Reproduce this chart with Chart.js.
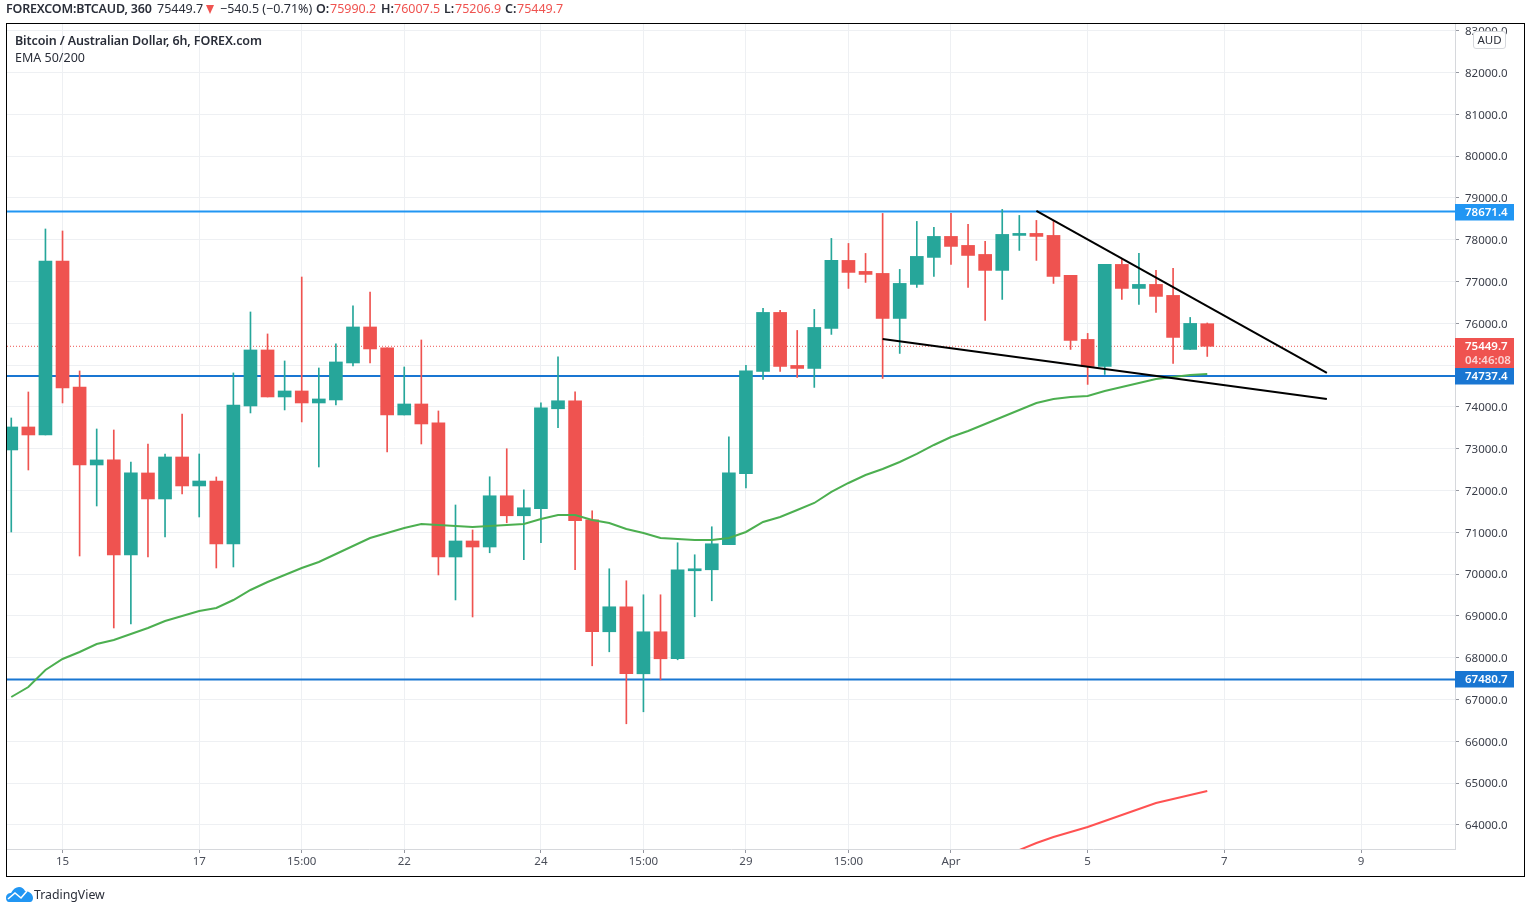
<!DOCTYPE html>
<html>
<head>
<meta charset="utf-8">
<title>BTCAUD</title>
<script src="https://cdn.jsdelivr.net/npm/chart.js@4"></script>
<style>
  html, body { margin: 0; padding: 0; background: #fff; }
  #wrap { position: relative; width: 1530px; height: 913px; overflow: hidden; font-family: "Noto Sans", sans-serif; color: #2a2e39; }
  #wrap canvas { position: absolute; left: 0; top: 0; }
  #frame { position: absolute; left: 6px; top: 23px; width: 1517px; height: 852px; border: 1px solid #000; pointer-events: none; }
  .hd { position: absolute; top: 0; font-size: 12.5px; line-height: 18px; white-space: nowrap; }
  .red { color: #ef5350; }
  .b { font-weight: 600; }
  #tri { position: absolute; left: 206px; top: 5px; width: 0; height: 0; border-left: 4.5px solid transparent; border-right: 4.5px solid transparent; border-top: 9px solid #ef5350; }
  #title { position: absolute; left: 15px; top: 32px; font-size: 12.5px; line-height: 18px; font-weight: 600; letter-spacing: -0.12px; }
  #sub { position: absolute; left: 15px; top: 49px; font-size: 12.5px; line-height: 18px; }
  #aud { position: absolute; left: 1473px; top: 31px; width: 31px; height: 16px; line-height: 16px; border: 1px solid #d6d8dc; border-radius: 3px; background: #fff; text-align: center; font-size: 11.5px; }
  #logo { position: absolute; left: 6px; top: 886px; }
  #tv { position: absolute; left: 34px; top: 886px; font-size: 12.3px; line-height: 18px; }
</style>
</head>
<body>
<div id="wrap">
  <canvas id="chart" width="1530" height="913"></canvas>
  <div id="frame"></div>
  <span class="hd b" style="left:6px;letter-spacing:-0.2px">FOREXCOM:BTCAUD, 360</span>
  <span class="hd" style="left:157px">75449.7</span>
  <div id="tri"></div>
  <span class="hd" style="left:220px">−540.5 (−0.71%)</span>
  <span class="hd b" style="left:316px">O:</span><span class="hd red" style="left:330px">75990.2</span>
  <span class="hd b" style="left:381px">H:</span><span class="hd red" style="left:394px">76007.5</span>
  <span class="hd b" style="left:444px">L:</span><span class="hd red" style="left:455px">75206.9</span>
  <span class="hd b" style="left:505px">C:</span><span class="hd red" style="left:517px">75449.7</span>
  <div id="title">Bitcoin / Australian Dollar, 6h, FOREX.com</div>
  <div id="sub">EMA 50/200</div>
  <div id="aud">AUD</div>
  <svg id="logo" width="27" height="16" viewBox="0 0 27 16">
    <path d="M0 12 C0 8 3 7 5 7 C7 3 10 1 13 1 C16 1 18 3 19 5 C23 5 27 8 27 12 C27 14 26 16 24 16 L3 16 C1 16 0 14 0 12 Z" fill="#2196f3"/>
    <path d="M2 13 L9 7 L15 12 L21 5" fill="none" stroke="#fff" stroke-width="1.6"/>
  </svg>
  <div id="tv">TradingView</div>
</div>
<script>
const opens = [72970, 73520, 73329, 77490, 74477, 72611, 72731, 70458, 72420, 71798, 72802, 72109, 72228, 70721, 74022, 75362, 74238, 74381, 74094, 74166, 75051, 75912, 75410, 73807, 74070, 73616, 70410, 70793, 70649, 71874, 71396, 71563, 73955, 74147, 71300, 68621, 69219, 67616, 68621, 67975, 70080, 70104, 70702, 72400, 74848, 76260, 74992, 74920, 75877, 77504, 77241, 77193, 76116, 76930, 77576, 78078, 77863, 77647, 77265, 78102, 78150, 78102, 77145, 75614, 74968, 77408, 76834, 76930, 76667, 75375, 75990];
const closes = [73520, 73329, 77490, 74453, 72611, 72731, 70458, 72420, 71798, 72802, 72109, 72228, 70721, 74046, 75362, 74238, 74381, 74094, 74190, 75075, 75912, 75386, 73807, 74070, 73592, 70410, 70793, 70649, 71874, 71396, 71587, 73979, 74147, 71276, 68621, 69219, 67616, 68621, 67975, 70104, 70128, 70726, 72424, 74864, 76260, 74968, 74920, 75901, 77504, 77217, 77169, 76116, 76954, 77600, 78078, 77839, 77623, 77265, 78126, 78150, 78078, 77121, 75590, 74968, 77408, 76834, 76930, 76643, 75662, 75997, 75449.7];
const highs = [73735, 74357, 78256, 78208, 74860, 73472, 73448, 72683, 73113, 72874, 73831, 72874, 72324, 74812, 76271, 75745, 75099, 77107, 74931, 75506, 76415, 76749, 75410, 74955, 75601, 73903, 71654, 71056, 72329, 72999, 72018, 74099, 75199, 74362, 71515, 70128, 69841, 69506, 69506, 70750, 70463, 71133, 73286, 74992, 76356, 76308, 75829, 76332, 78030, 77910, 77671, 78628, 77289, 78437, 78293, 78628, 78365, 77958, 78724, 78580, 78461, 78437, 77145, 75758, 77408, 77528, 77671, 77265, 77313, 76140, 76007.5];
const lows = [71008, 72491, 73329, 74094, 70434, 71630, 68712, 68807, 70410, 70889, 71917, 71367, 70147, 70171, 73855, 74238, 73927, 73640, 72563, 74046, 74979, 75051, 72922, 73807, 73113, 69980, 69382, 68975, 70511, 71228, 70343, 70750, 73501, 70104, 67807, 68142, 66420, 66707, 67472, 67951, 68980, 69362, 70702, 72065, 74657, 74848, 74705, 74466, 75734, 76834, 76978, 74681, 75279, 76858, 77121, 77408, 76858, 76068, 76571, 77743, 77504, 76954, 75375, 74538, 74777, 76571, 76451, 76260, 75040, 75375, 75206.9];
const ema50 = [67061, 67300, 67707, 67970, 68138, 68329, 68424, 68568, 68712, 68879, 68999, 69118, 69190, 69381, 69621, 69812, 69979, 70147, 70290, 70482, 70673, 70864, 70984, 71104, 71199, 71175, 71151, 71127, 71151, 71175, 71199, 71319, 71415, 71415, 71295, 71223, 71080, 70984, 70864, 70840, 70817, 70817, 70864, 71008, 71247, 71367, 71534, 71702, 71965, 72180, 72371, 72515, 72682, 72874, 73089, 73280, 73424, 73591, 73759, 73926, 74094, 74189, 74237, 74261, 74381, 74476, 74572, 74668, 74715, 74763, 74787];
const ema200Start = 59;
const ema200 = [63400, 63569, 63712, 63832, 63951, 64095, 64238, 64382, 64525, 64621, 64717, 64813];
const levels = [78671.4, 74737.4, 67480.7];
const levelColors = ['#2196f3', '#1976d2', '#1976d2'];
const lastPrice = 75449.7;
const upperTrendX = [60, 77];
const upperTrendY = [78686, 74811];
const lowerTrendX = [51, 77];
const lowerTrendY = [75624, 74189];
const xTickPos = [3, 11, 17, 23, 31, 37, 43, 49, 55, 63, 71, 79];
const xTickLabels = ['15', '17', '15:00', '22', '24', '15:00', '29', '15:00', 'Apr', '5', '7', '9'];
const yTickPos = [64000, 65000, 66000, 67000, 68000, 69000, 70000, 71000, 72000, 73000, 74000, 75000, 76000, 77000, 78000, 79000, 80000, 81000, 82000, 83000];
const xMin = -0.25, xMax = 84.5;
const yMin = 63425, yMax = 83159;

const UP = '#26a69a', DOWN = '#ef5350';
const FONT = '"Noto Sans", sans-serif';
const candleColors = opens.map((o, i) => closes[i] >= o ? UP : DOWN);
const idx = opens.map((_, i) => i);

const flatLine = (y, color) => ({
  type: 'line',
  data: [{ x: xMin, y }, { x: xMax, y }],
  borderColor: color, borderWidth: 2, pointRadius: 0, order: 9
});
const trendLine = (xs, ys) => ({
  type: 'line',
  data: xs.map((x, i) => ({ x, y: ys[i] })),
  borderColor: '#000', borderWidth: 2, pointRadius: 0, order: 1
});

// price tags on the right axis
const tagsPlugin = {
  id: 'tags',
  afterDraw(chart) {
    const { ctx, scales: { y } } = chart;
    const tag = (value, color, h, extra) => {
      const py = Math.round(y.getPixelForValue(value));
      const top = py - 8;
      ctx.fillStyle = color;
      ctx.fillRect(1455, top, 59, h);
      ctx.fillStyle = '#fff';
      ctx.font = '600 11.5px ' + FONT;
      ctx.textBaseline = 'middle';
      ctx.textAlign = 'left';
      ctx.fillText(value.toFixed(1), 1465, py + 1);
      if (extra) {
        ctx.fillStyle = 'rgba(255,255,255,0.75)';
        ctx.fillText(extra, 1465, py + 15);
      }
    };
    tag(lastPrice, DOWN, 30, '04:46:08');
    levels.forEach((v, i) => tag(v, levelColors[i], 16.5));
  }
};

new Chart(document.getElementById('chart'), {
  data: {
    datasets: [
      ...levels.map((v, i) => flatLine(v, levelColors[i])),
      {
        type: 'line',
        data: [{ x: xMin, y: lastPrice }, { x: xMax, y: lastPrice }],
        borderColor: DOWN, borderWidth: 1, borderDash: [1, 2], pointRadius: 0, order: 10
      },
      {
        type: 'bar',
        data: idx.map(i => ({ x: i, y: [lows[i], highs[i]] })),
        backgroundColor: candleColors, barThickness: 1, grouped: false, order: 5
      },
      {
        type: 'bar',
        data: idx.map(i => ({ x: i, y: [opens[i], closes[i]] })),
        backgroundColor: candleColors, barThickness: 13, grouped: false, order: 4
      },
      {
        type: 'line',
        data: ema50.map((v, i) => ({ x: i, y: v })),
        borderColor: '#4caf50', borderWidth: 2, pointRadius: 0, order: 3
      },
      {
        type: 'line',
        data: ema200.map((v, i) => ({ x: ema200Start + i, y: v })),
        borderColor: '#ff5252', borderWidth: 2, pointRadius: 0, order: 3
      },
      trendLine(upperTrendX, upperTrendY),
      trendLine(lowerTrendX, lowerTrendY)
    ]
  },
  options: {
    responsive: false,
    animation: false,
    layout: { padding: { left: 7, top: 24, right: 0, bottom: 0 } },
    plugins: { legend: { display: false }, tooltip: { enabled: false } },
    scales: {
      x: {
        type: 'linear',
        min: xMin,
        max: xMax,
        offset: false,
        afterBuildTicks(scale) { scale.ticks = xTickPos.map(value => ({ value })); },
        afterFit(scale) { scale.height = 913 - 849; },
        grid: { offset: false, color: '#eef0f3', tickColor: '#9598a1', tickLength: 4 },
        border: { color: '#d6d8dc' },
        ticks: {
          autoSkip: false,
          maxRotation: 0,
          padding: 2,
          color: '#4a4e59',
          font: { family: FONT, size: 11.5 },
          callback: v => xTickLabels[xTickPos.indexOf(v)]
        }
      },
      y: {
        position: 'right',
        min: yMin,
        max: yMax,
        afterBuildTicks(scale) { scale.ticks = yTickPos.map(value => ({ value })); },
        afterFit(scale) { scale.width = 75; },
        grid: { color: '#eef0f3', tickColor: '#9598a1', tickLength: 4 },
        border: { color: '#d6d8dc' },
        ticks: {
          autoSkip: false,
          padding: 6,
          labelOffset: 1,
          color: '#3a3e49',
          font: { family: FONT, size: 11.5 },
          callback: v => v.toFixed(1)
        }
      }
    }
  },
  plugins: [tagsPlugin]
});
</script>
</body>
</html>
